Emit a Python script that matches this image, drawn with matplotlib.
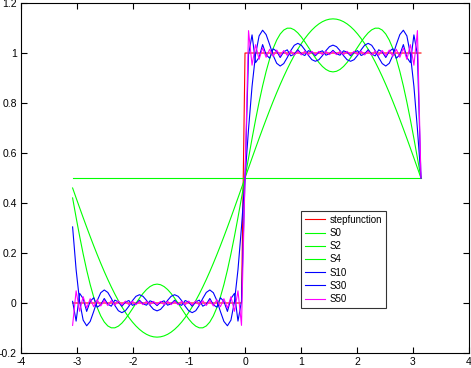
import numpy as np
import matplotlib
matplotlib.use('Agg')
import matplotlib.pyplot as plt

# 傅里叶部分和: S_n = 1/2 + (2/pi) * sum_{k odd, k<n} sin(kx)/k
labels = ['stepfunction', 'S0', 'S2', 'S4', 'S10', 'S30', 'S50']
orders = [0, 2, 4, 10, 30, 50]
colors = ['#ff0000', '#00ff00', '#00ff00', '#00ff00', '#0000ff', '#0000ff', '#ff00ff']
n_grid = 100

x_ticks = [-4, -3, -2, -1, 0, 1, 2, 3, 4]
y_ticks = [-0.2, 0, 0.2, 0.4, 0.6, 0.8, 1, 1.2]

plt.rcParams['font.family'] = ['Liberation Sans', 'DejaVu Sans']
plt.rcParams['axes.unicode_minus'] = False

# 采样点: 从 -pi+h 到 pi
h = 2 * np.pi / n_grid
x = -np.pi + h * np.arange(1, n_grid + 1)

fig = plt.figure(figsize=(4.71, 3.68), dpi=100)
ax = fig.add_axes([0.0446, 0.0408, 0.9512, 0.951])

step = (x > 0).astype(float)
ax.plot(x, step, color=colors[0], lw=0.8, label=labels[0])

for n, c, lab in zip(orders, colors[1:], labels[1:]):
    s = np.full_like(x, 0.5)
    for k in range(1, n, 2):
        s = s + (2 / np.pi) * np.sin(k * x) / k
    ax.plot(x, s, color=c, lw=0.8, label=lab)

ax.set_xlim(-4, 4)
ax.set_ylim(-0.2, 1.2)
ax.set_xticks(x_ticks)
ax.set_yticks(y_ticks)
ax.set_xticklabels([f'{v:g}' for v in x_ticks])
ax.set_yticklabels([f'{v:g}' for v in y_ticks])
ax.tick_params(direction='in', length=4, width=0.8, labelsize=7.5,
               top=True, right=True, pad=3)
for sp in ax.spines.values():
    sp.set_linewidth(0.8)

leg = ax.legend(loc='upper left', bbox_to_anchor=(0.625, 0.406), fontsize=7,
                frameon=True, fancybox=False, edgecolor='black',
                handlelength=2.1, handletextpad=0.4, labelspacing=0.33,
                borderpad=0.4, borderaxespad=0)
leg.get_frame().set_linewidth(0.8)

plt.savefig('out.png', dpi=100)
